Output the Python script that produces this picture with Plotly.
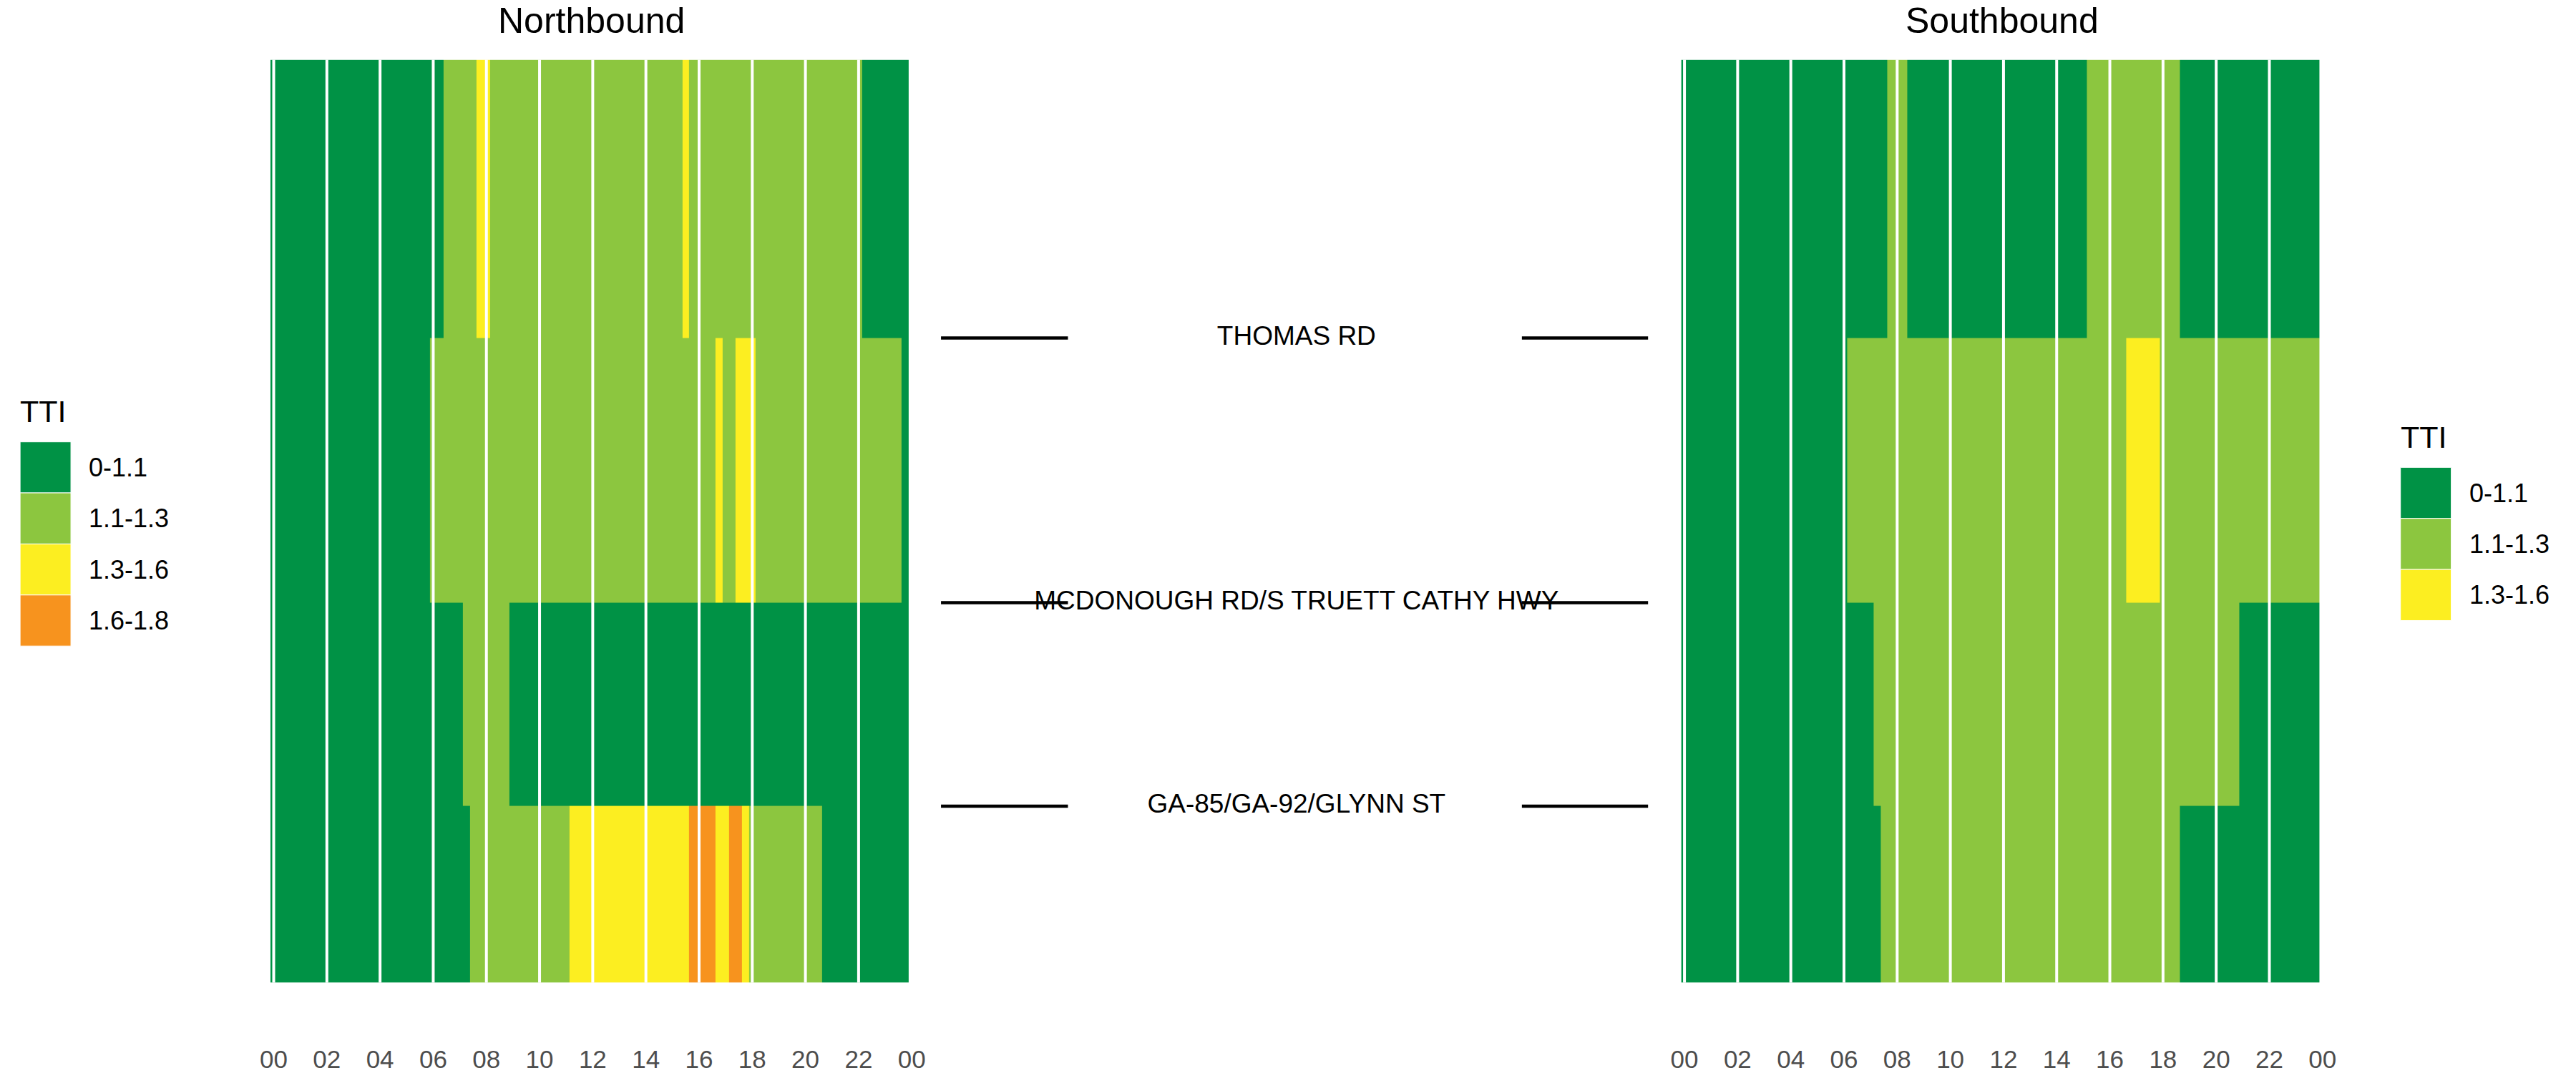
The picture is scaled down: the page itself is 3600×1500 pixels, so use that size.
import plotly.graph_objects as go

# ---------------- data ----------------
tti_bins = ["0-1.1", "1.1-1.3", "1.3-1.6", "1.6-1.8"]
tti_colors = ["#009245", "#8CC63F", "#FCEE21", "#F7931E"]

# cross streets at the segment boundaries, listed top to bottom
cross_streets = ["THOMAS RD", "MCDONOUGH RD/S TRUETT CATHY HWY", "GA-85/GA-92/GLYNN ST"]
# segment lengths (miles), listed top to bottom
seg_len_mi = [0.905, 0.861, 0.662, 0.574]

hour_ticks = [0, 2, 4, 6, 8, 10, 12, 14, 16, 18, 20, 22, 24]
hour_labels = ["00", "02", "04", "06", "08", "10", "12", "14", "16", "18", "20", "22", "00"]

slot_minutes = 15  # one character per 15-minute slot, grouped by hour; TTI bin index

northbound = [
    "0000 0000 0000 0000 0000 0000 0011 1112 2111 1111 1111 1111 1111 1111 1111 1121 1111 1111 1111 1111 1111 1111 1000 0000",
    "0000 0000 0000 0000 0000 0000 1111 1111 1111 1111 1111 1111 1111 1111 1111 1111 1112 1122 2111 1111 1111 1111 1111 1110",
    "0000 0000 0000 0000 0000 0000 0000 0111 1111 0000 0000 0000 0000 0000 0000 0000 0000 0000 0000 0000 0000 0000 0000 0000",
    "0000 0000 0000 0000 0000 0000 0000 0011 1111 1111 1111 1222 2222 2222 2222 2223 3332 2332 1111 1111 1110 0000 0000 0000",
]
southbound = [
    "0000 0000 0000 0000 0000 0000 0000 0001 1100 0000 0000 0000 0000 0000 0000 0111 1111 1111 1110 0000 0000 0000 0000 0000",
    "0000 0000 0000 0000 0000 0000 0111 1111 1111 1111 1111 1111 1111 1111 1111 1111 1112 2222 1111 1111 1111 1111 1111 1111",
    "0000 0000 0000 0000 0000 0000 0000 0111 1111 1111 1111 1111 1111 1111 1111 1111 1111 1111 1111 1111 1111 0000 0000 0000",
    "0000 0000 0000 0000 0000 0000 0000 0011 1111 1111 1111 1111 1111 1111 1111 1111 1111 1111 1110 0000 0000 0000 0000 0000",
]

# ---------------- derived ----------------
def decode(rows):
    return [[int(c) for c in r.replace(" ", "")] for r in rows]

nb = decode(northbound)
sb = decode(southbound)
n_slots = len(nb[0])
slot_h = slot_minutes / 60.0
slot_x = [k * slot_h for k in range(n_slots)]

# y edges bottom -> top
y_edges = [0.0]
for L in seg_len_mi[::-1]:
    y_edges.append(y_edges[-1] + L)
y_total = y_edges[-1]
boundaries_top_down = y_edges[1:-1][::-1]

ncat = len(tti_colors)
colorscale = []
for i, c in enumerate(tti_colors):
    colorscale.append([i / ncat, c])
    colorscale.append([(i + 1) / ncat, c])

# ---------------- layout geometry (pixels) ----------------
W, H = 3600, 1500
FONT = "Liberation Sans, Arial, sans-serif"
NB_DOM = (373, 1270)
SB_DOM = (2346, 3243)
MID_DOM = (1270, 2346)
PANEL_TOP, PANEL_BOTTOM = 84, 1381
# horizontal calibration of the captured page (measured from previous renders)
X_SCALE, X_SHIFT = 1.0088, -9.96


def fx(p):
    return (X_SCALE * p + X_SHIFT) / W


def fy(p):
    return 1 - p / H


fig = go.Figure()

fig.add_trace(go.Heatmap(z=nb[::-1], x=slot_x, y=y_edges, colorscale=colorscale,
                         zmin=-0.5, zmax=ncat - 0.5, showscale=False,
                         xaxis="x", yaxis="y", hoverinfo="skip"))
fig.add_trace(go.Heatmap(z=sb[::-1], x=slot_x, y=y_edges, colorscale=colorscale,
                         zmin=-0.5, zmax=ncat - 0.5, showscale=False,
                         xaxis="x2", yaxis="y", hoverinfo="skip"))

# connector lines and cross-street labels in the middle panel
lx, ly = [], []
for yb in boundaries_top_down:
    lx += [0.038, 0.203, None, 0.793, 0.957, None]
    ly += [yb, yb, None, yb, yb, None]
fig.add_trace(go.Scatter(x=lx, y=ly, mode="lines", line=dict(color="black", width=4.5),
                         xaxis="x3", yaxis="y", hoverinfo="skip"))
fig.add_trace(go.Scatter(x=[0.5] * len(cross_streets), y=boundaries_top_down, text=cross_streets,
                         mode="text", textposition="middle center",
                         textfont=dict(family=FONT, size=37, color="black"),
                         xaxis="x3", yaxis="y", hoverinfo="skip"))

xaxis_common = dict(range=[-slot_h / 2, hour_ticks[-1]], tickmode="array", tickvals=hour_ticks,
                    ticktext=hour_labels, ticks="outside", ticklen=76, tickcolor="rgba(0,0,0,0)",
                    tickfont=dict(family=FONT, size=35, color="#4D4D4D"), showgrid=False,
                    zeroline=False, showline=False, anchor="y", fixedrange=True)

shapes = []
for xr in ("x", "x2"):
    for t in hour_ticks[:-1]:
        shapes.append(dict(type="line", xref=xr, yref="y domain", x0=t, x1=t, y0=0, y1=1,
                           line=dict(color="white", width=4), layer="above"))

annotations = []
for name, dom in (("Northbound", NB_DOM), ("Southbound", SB_DOM)):
    annotations.append(dict(text=name, x=fx((dom[0] + dom[1]) / 2), y=1.0, xref="paper",
                            yref="paper", xanchor="center", yanchor="top", showarrow=False,
                            borderpad=0, font=dict(family=FONT, size=50, color="black")))

# legends (one per panel, listing the bins present)
SW = 71.75
TITLE_GAP = 59
LEG_CENTER = 735
for data, x0 in ((nb, 23), (sb, 3352)):
    present = sorted({v for row in data for v in row})
    top = LEG_CENTER - (TITLE_GAP + len(present) * SW) / 2
    annotations.append(dict(text="TTI", x=fx(x0 - 2), y=fy(top + 16), xref="paper", yref="paper",
                            xanchor="left", yanchor="middle", showarrow=False,
                            font=dict(family=FONT, size=43, color="black")))
    for i, ci in enumerate(present):
        y0 = top + TITLE_GAP + i * SW
        shapes.append(dict(type="rect", xref="paper", yref="paper", x0=fx(x0), x1=fx(x0 + 71),
                           y0=fy(y0), y1=fy(y0 + SW), fillcolor=tti_colors[ci],
                           line=dict(color="white", width=1), layer="above"))
        annotations.append(dict(text=tti_bins[ci], x=fx(x0 + 94), y=fy(y0 + SW / 2), xref="paper",
                                yref="paper", xanchor="left", yanchor="middle", showarrow=False,
                                font=dict(family=FONT, size=36, color="black")))

fig.update_layout(
    width=W, height=H, autosize=False,
    margin=dict(l=0, r=0, t=0, b=0),
    paper_bgcolor="white", plot_bgcolor="white",
    showlegend=False,
    font=dict(family=FONT),
    xaxis=dict(domain=[fx(NB_DOM[0]), fx(NB_DOM[1])], **xaxis_common),
    xaxis2=dict(domain=[fx(SB_DOM[0]), fx(SB_DOM[1])], **xaxis_common),
    xaxis3=dict(domain=[fx(MID_DOM[0]), fx(MID_DOM[1])], range=[0, 1], visible=False,
                anchor="y", fixedrange=True),
    yaxis=dict(domain=[fy(PANEL_BOTTOM), fy(PANEL_TOP)], range=[0, y_total], visible=False,
               fixedrange=True),
    shapes=shapes,
    annotations=annotations,
)

fig.write_html("out.html")
